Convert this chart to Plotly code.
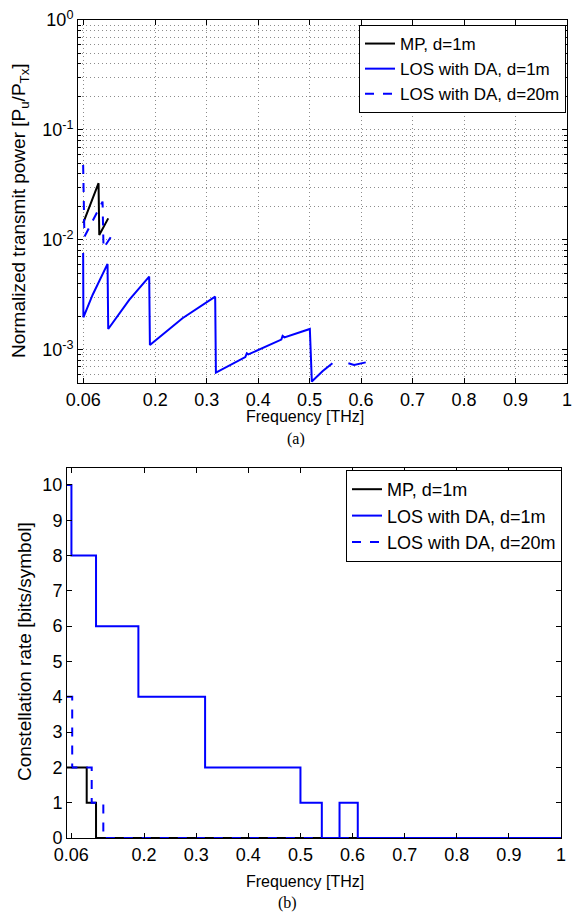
import plotly.graph_objects as go

W, H = 572, 918

# ---------------- data: (a) normalized transmit power ----------------
mp_f = [0.060, 0.0899, 0.0913, 0.1087]
mp_p = [1.42e-2, 3.28e-2, 1.11e-2, 1.57e-2]

los1_f = [0.060, 0.0605, 0.0783, 0.1074, 0.1087, 0.1495, 0.1883, 0.1897, 0.253, 0.3165,
          0.3179, 0.375, 0.378, 0.381, 0.445, 0.4475, 0.451, 0.5004, 0.5043, 0.525, 0.5443,
          None, 0.5753, 0.5864, 0.609]
los1_p = [7.6e-3, 1.98e-3, 3.16e-3, 6.05e-3, 1.55e-3, 2.85e-3, 4.64e-3, 1.11e-3, 1.94e-3, 3.05e-3,
          6.22e-4, 8.6e-4, 9.3e-4, 9.1e-4, 1.24e-3, 1.34e-3, 1.30e-3, 1.55e-3, 5.15e-4, 6.4e-4, 7.57e-4,
          None, 7.57e-4, 7.3e-4, 7.7e-4]

los20_f = [0.060, 0.0625, 0.0977, 0.0996, 0.1204]
los20_p = [4.8e-2, 1.07e-2, 2.23e-2, 8.4e-3, 1.19e-2]

# ---------------- data: (b) constellation rate ----------------
mp_rf = [0.052, 0.0898, 0.1077, 1.0]
mp_r = [2, 1, 0, 0]

los1_rf = [0.052, 0.0605, 0.1077, 0.189, 0.317, 0.500, 0.541, 0.575, 0.610, 1.0]
los1_r = [10, 8, 6, 4, 2, 1, 0, 1, 0, 0]

los20_rf = [0.052, 0.062, 0.0994, 0.1217, 1.0]
los20_r = [4, 2, 1, 0, 0]

x_tickvals = [0.06, 0.2, 0.3, 0.4, 0.5, 0.6, 0.7, 0.8, 0.9, 1.0]
x_ticktext = ["0.06", "0.2", "0.3", "0.4", "0.5", "0.6", "0.7", "0.8", "0.9", "1"]
p_tickvals = [1e-3, 1e-2, 1e-1, 1]
p_ticktext = ["10<sup>-3</sup>", "10<sup>-2</sup>", "10<sup>-1</sup>", "10<sup>0</sup>"]
p_minor = [m * 10.0 ** e for e in (-4, -3, -2, -1) for m in range(2, 10)]
r_tickvals = list(range(0, 11))

names = ["MP, d=1m", "LOS with DA, d=1m", "LOS with DA, d=20m"]

FONT = "Liberation Sans, Arial, Helvetica, sans-serif"
BLUE = "#0000ff"
GRID = "#8c8c8c"
GDASH = "1px,3px"

fig = go.Figure()

# top traces
fig.add_trace(go.Scatter(x=mp_f, y=mp_p, mode="lines", name=names[0],
                         line=dict(color="black", width=2), xaxis="x", yaxis="y", legend="legend"))
fig.add_trace(go.Scatter(x=los1_f, y=los1_p, mode="lines", name=names[1], connectgaps=False,
                         line=dict(color=BLUE, width=2), xaxis="x", yaxis="y", legend="legend"))
fig.add_trace(go.Scatter(x=los20_f, y=los20_p, mode="lines", name=names[2],
                         line=dict(color=BLUE, width=2, dash="dash"), xaxis="x", yaxis="y", legend="legend"))

# bottom traces
fig.add_trace(go.Scatter(x=mp_rf, y=mp_r, mode="lines", name=names[0], line_shape="hv",
                         line=dict(color="black", width=2), xaxis="x2", yaxis="y2", legend="legend2"))
fig.add_trace(go.Scatter(x=los1_rf, y=los1_r, mode="lines", name=names[1], line_shape="hv",
                         line=dict(color=BLUE, width=2), xaxis="x2", yaxis="y2", legend="legend2"))
fig.add_trace(go.Scatter(x=los20_rf, y=los20_r, mode="lines", name=names[2], line_shape="hv",
                         line=dict(color=BLUE, width=2, dash="dash"), xaxis="x2", yaxis="y2", legend="legend2"))

def px(v):
    return v / W

def py(v):
    return 1 - v / H

axis_common = dict(showline=True, linecolor="black", linewidth=1, mirror="allticks",
                   ticks="inside", ticklen=5, tickcolor="black", tickwidth=1, automargin=False,
                   ticklabeloverflow="allow",
                   tickfont=dict(family=FONT, size=18, color="black"), zeroline=False)

fig.update_layout(
    width=W, height=H, autosize=False,
    margin=dict(l=0, r=0, t=0, b=0, pad=0, autoexpand=False),
    paper_bgcolor="white", plot_bgcolor="white",
    font=dict(family=FONT, color="black"),
    xaxis=dict(domain=[px(78), px(567)], anchor="y", range=[0.05, 1.0],
               tickvals=x_tickvals, ticktext=x_ticktext,
               showgrid=True, gridcolor=GRID, griddash=GDASH, gridwidth=1, **axis_common),
    yaxis=dict(domain=[py(383), py(20)], anchor="x", type="log", range=[-3.301, 0],
               tickvals=p_tickvals, ticktext=p_ticktext,
               showgrid=True, gridcolor=GRID, griddash=GDASH, gridwidth=1,
               minor=dict(tickvals=p_minor, ticks="inside", ticklen=3, tickcolor="black",
                          showgrid=True, gridcolor=GRID, griddash=GDASH, gridwidth=1),
               **axis_common),
    xaxis2=dict(domain=[px(67), px(561)], anchor="y2", range=[0.052, 1.0],
                tickvals=x_tickvals, ticktext=x_ticktext, showgrid=False, **axis_common),
    yaxis2=dict(domain=[py(838), py(468)], anchor="x2", range=[0, 10.48],
                tickvals=r_tickvals, showgrid=False, **axis_common),
    legend=dict(x=px(566), xanchor="right", y=py(25), yanchor="top",
                bgcolor="white", bordercolor="black", borderwidth=1,
                font=dict(family=FONT, size=17, color="black"), tracegroupgap=0),
    legend2=dict(x=px(562), xanchor="right", y=py(470), yanchor="top",
                 bgcolor="white", bordercolor="black", borderwidth=1,
                 font=dict(family=FONT, size=18, color="black"), tracegroupgap=0),
    showlegend=True,
)

ann = [
    dict(text="Frequency [THz]", x=px(305), y=py(417), size=16, angle=0, family=FONT),
    dict(text="Frequency [THz]", x=px(305), y=py(881), size=16, angle=0, family=FONT),
    dict(text="Normalized transmit power [P<sub>u</sub>/P<sub>Tx</sub>]", x=px(20), y=py(211),
         size=19, angle=-90, family=FONT),
    dict(text="Constellation rate [bits/symbol]", x=px(24), y=py(652), size=19, angle=-90, family=FONT),
    dict(text="(a)", x=px(296), y=py(439), size=16, angle=0,
         family="Liberation Serif, Times New Roman, serif"),
    dict(text="(b)", x=px(287), y=py(903), size=16, angle=0,
         family="Liberation Serif, Times New Roman, serif"),
]
for a in ann:
    fig.add_annotation(text=a["text"], x=a["x"], y=a["y"], xref="paper", yref="paper",
                       xanchor="center", yanchor="middle", showarrow=False, textangle=a["angle"],
                       font=dict(family=a["family"], size=a["size"], color="black"))

fig.write_html("out.html", config={"displayModeBar": False},
               post_script="document.body.style.margin='0';document.body.style.overflow='hidden';")
